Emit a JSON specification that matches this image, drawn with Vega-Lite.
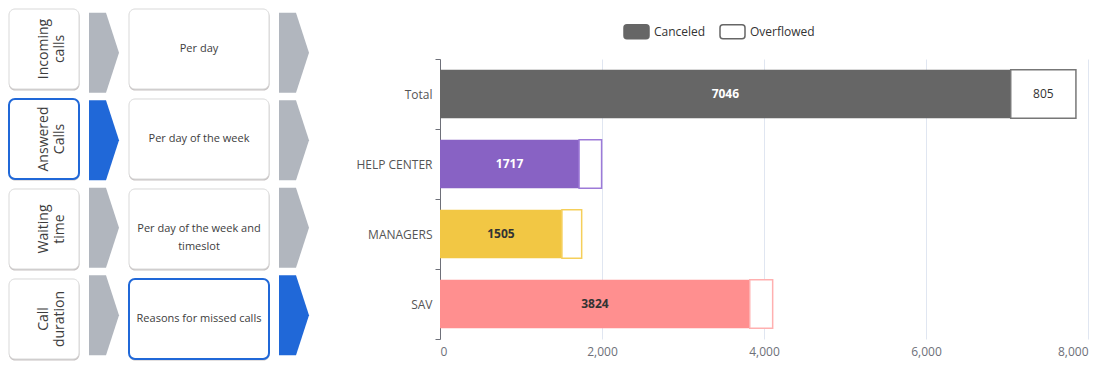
{
  "$schema": "https://vega.github.io/schema/vega-lite/v6.json",
  "padding": {"left": 8, "top": 3, "right": 8, "bottom": 5},
  "config": {"view": {"stroke": null}, "font": "Open Sans"},
  "datasets": {
    "nav": [
      {"row": 1, "metric": ["Incoming", "calls"], "breakdown": ["Per day"], "mActive": false, "bActive": false},
      {"row": 2, "metric": ["Answered", "Calls"], "breakdown": ["Per day of the week"], "mActive": true, "bActive": false},
      {"row": 3, "metric": ["Waiting", "time"], "breakdown": ["Per day of the week and", "timeslot"], "mActive": false, "bActive": false},
      {"row": 4, "metric": ["Call", "duration"], "breakdown": ["Reasons for missed calls"], "mActive": false, "bActive": true}
    ],
    "calls": [
      {"category": "Total", "type": "Canceled", "value": 7046},
      {"category": "Total", "type": "Overflowed", "value": 805},
      {"category": "HELP CENTER", "type": "Canceled", "value": 1717},
      {"category": "HELP CENTER", "type": "Overflowed", "value": 278},
      {"category": "MANAGERS", "type": "Canceled", "value": 1505},
      {"category": "MANAGERS", "type": "Overflowed", "value": 244},
      {"category": "SAV", "type": "Canceled", "value": 3824},
      {"category": "SAV", "type": "Overflowed", "value": 283}
    ]
  },
  "spacing": 46,
  "hconcat": [
    {
      "spacing": 9,
      "hconcat": [
        {
          "width": 70, "height": 350,
          "data": {"name": "nav"},
          "encoding": {"y": {"field": "row", "type": "ordinal", "axis": null, "scale": {"paddingInner": 0.1111, "paddingOuter": 0}}},
          "layer": [
            {"mark": {"type": "rect", "cornerRadius": 6, "fill": "#8f8585", "opacity": 0.5, "xOffset": 0.5, "x2Offset": 0.5, "yOffset": 1.5, "y2Offset": 2}},
            {"mark": {"type": "rect", "cornerRadius": 6, "fill": "#ffffff"},
             "encoding": {
               "stroke": {"condition": {"test": "datum.mActive", "value": "#2068d8"}, "value": "#d9d9d9"},
               "strokeWidth": {"condition": {"test": "datum.mActive", "value": 2}, "value": 1}
             }},
            {"mark": {"type": "text", "angle": 270, "fontSize": 14, "lineHeight": 16, "color": "#3d3d3d"},
             "encoding": {"text": {"field": "metric", "type": "nominal"}}}
          ]
        },
        {
          "width": 30, "height": 350,
          "data": {"name": "nav"},
          "mark": {"type": "point", "filled": true, "opacity": 1, "size": 6400, "strokeWidth": 0,
                   "shape": "M -0.375 -1 L 0.05 -1 L 0.375 0 L 0.05 1 L -0.375 1 Z"},
          "encoding": {
            "y": {"field": "row", "type": "ordinal", "axis": null, "scale": {"paddingInner": 0.1111, "paddingOuter": 0}},
            "fill": {"condition": {"test": "datum.mActive", "value": "#2068d8"}, "value": "#b1b6be"}
          }
        },
        {
          "width": 140, "height": 350,
          "data": {"name": "nav"},
          "encoding": {"y": {"field": "row", "type": "ordinal", "axis": null, "scale": {"paddingInner": 0.1111, "paddingOuter": 0}}},
          "layer": [
            {"mark": {"type": "rect", "cornerRadius": 6, "fill": "#8f8585", "opacity": 0.5, "xOffset": 0.5, "x2Offset": 0.5, "yOffset": 1.5, "y2Offset": 2}},
            {"mark": {"type": "rect", "cornerRadius": 6, "fill": "#ffffff"},
             "encoding": {
               "stroke": {"condition": {"test": "datum.bActive", "value": "#2068d8"}, "value": "#d9d9d9"},
               "strokeWidth": {"condition": {"test": "datum.bActive", "value": 2}, "value": 1}
             }},
            {"mark": {"type": "text", "fontSize": 11, "lineHeight": 18, "color": "#3d3d3d"},
             "encoding": {"text": {"field": "breakdown", "type": "nominal"}}}
          ]
        },
        {
          "width": 30, "height": 350,
          "data": {"name": "nav"},
          "mark": {"type": "point", "filled": true, "opacity": 1, "size": 6400, "strokeWidth": 0,
                   "shape": "M -0.375 -1 L 0.05 -1 L 0.375 0 L 0.05 1 L -0.375 1 Z"},
          "encoding": {
            "y": {"field": "row", "type": "ordinal", "axis": null, "scale": {"paddingInner": 0.1111, "paddingOuter": 0}},
            "fill": {"condition": {"test": "datum.bActive", "value": "#2068d8"}, "value": "#b1b6be"}
          }
        }
      ]
    },
    {
      "width": 648, "height": 330,
      "data": {"name": "calls"},
      "layer": [
        {
          "mark": {"type": "bar", "height": {"band": 0.69}},
          "encoding": {
            "y": {"field": "category", "type": "nominal", "sort": ["Total", "HELP CENTER", "MANAGERS", "SAV"],
                  "scale": {"range": [50, 330], "paddingInner": 0, "paddingOuter": 0},
                  "axis": {"title": null, "domainColor": "#6e7079", "tickColor": "#6e7079", "tickBand": "extent", "tickSize": 5,
                           "labelColor": "#555555", "labelFontSize": 12, "labelPadding": 3, "grid": false}},
            "x": {"field": "value", "type": "quantitative", "stack": "zero",
                  "scale": {"domain": [0, 8000], "nice": false},
                  "axis": {"title": null, "domain": false, "ticks": false, "grid": false, "values": [0, 2000, 4000, 6000, 8000], "format": ",.0f",
                           "labelColor": "#6e7079", "labelFontSize": 12, "labelPadding": 7}},
            "detail": {"field": "type"},
            "order": {"field": "type"},
            "fill": {"condition": {"test": "datum.type === 'Overflowed'", "value": "#ffffff"},
                     "field": "category", "type": "nominal",
                     "scale": {"domain": ["Total", "HELP CENTER", "MANAGERS", "SAV"], "range": ["#666666", "#8862c4", "#f2c744", "#ff8f8f"]},
                     "legend": null},
            "stroke": {"field": "category", "type": "nominal",
                       "scale": {"domain": ["Total", "HELP CENTER", "MANAGERS", "SAV"], "range": ["#777777", "#9d7ad8", "#f5cf5a", "#ffb0b0"]},
                       "legend": null},
            "strokeWidth": {"condition": {"test": "datum.type === 'Overflowed'", "value": 1.5}, "value": 0}
          }
        },
        {
          "mark": {"type": "text", "fontWeight": "bold", "fontSize": 12},
          "encoding": {
            "y": {"field": "category", "type": "nominal", "sort": ["Total", "HELP CENTER", "MANAGERS", "SAV"]},
            "x": {"field": "value", "type": "quantitative", "stack": "zero", "bandPosition": 0.5,
                  "axis": {"orient": "top", "title": null, "labels": false, "ticks": false, "domain": false, "grid": true,
                           "values": [0, 2000, 4000, 6000, 8000], "gridColor": "#e0e6f1"}},
            "detail": {"field": "type"},
            "order": {"field": "type"},
            "text": {"condition": {"test": "datum.type === 'Overflowed'", "value": ""}, "field": "value", "type": "quantitative"},
            "color": {"condition": {"test": "datum.category === 'Total' || datum.category === 'HELP CENTER'", "value": "#ffffff"}, "value": "#333333"}
          }
        },
        {
          "mark": {"type": "text", "fontSize": 12, "color": "#333333"},
          "encoding": {
            "y": {"field": "category", "type": "nominal", "sort": ["Total", "HELP CENTER", "MANAGERS", "SAV"]},
            "x": {"field": "value", "type": "quantitative", "stack": "zero", "bandPosition": 0.5, "axis": null},
            "detail": {"field": "type"},
            "order": {"field": "type"},
            "text": {"condition": {"test": "datum.type === 'Canceled' || datum.category !== 'Total'", "value": ""}, "field": "value", "type": "quantitative"}
          }
        },
        {
          "mark": {"type": "point", "filled": true, "opacity": 0},
          "encoding": {
            "fill": {"field": "type", "type": "nominal",
                     "scale": {"domain": ["Canceled", "Overflowed"], "range": ["#666666", "#ffffff"]},
                     "legend": {"title": null, "orient": "none", "legendX": 183, "legendY": 9, "direction": "horizontal",
                                "symbolType": "M -0.76 -0.56 L 0.76 -0.56 Q 1 -0.56 1 -0.32 L 1 0.32 Q 1 0.56 0.76 0.56 L -0.76 0.56 Q -1 0.56 -1 0.32 L -1 -0.32 Q -1 -0.56 -0.76 -0.56 Z",
                                "symbolSize": 625, "symbolStrokeWidth": 1.5, "symbolOpacity": 1,
                                "labelFontSize": 12, "labelColor": "#333333", "columnPadding": 11, "labelOffset": 4}},
            "stroke": {"field": "type", "type": "nominal",
                       "scale": {"domain": ["Canceled", "Overflowed"], "range": ["#666666", "#666666"]},
                       "legend": {"title": null, "orient": "none", "legendX": 183, "legendY": 9, "direction": "horizontal",
                                "symbolType": "M -0.76 -0.56 L 0.76 -0.56 Q 1 -0.56 1 -0.32 L 1 0.32 Q 1 0.56 0.76 0.56 L -0.76 0.56 Q -1 0.56 -1 0.32 L -1 -0.32 Q -1 -0.56 -0.76 -0.56 Z",
                                "symbolSize": 625, "symbolStrokeWidth": 1.5, "symbolOpacity": 1,
                                "labelFontSize": 12, "labelColor": "#333333", "columnPadding": 11, "labelOffset": 4}}
          }
        }
      ],
      "resolve": {"scale": {"fill": "independent", "stroke": "independent"}, "axis": {"x": "independent"}}
    }
  ]
}
